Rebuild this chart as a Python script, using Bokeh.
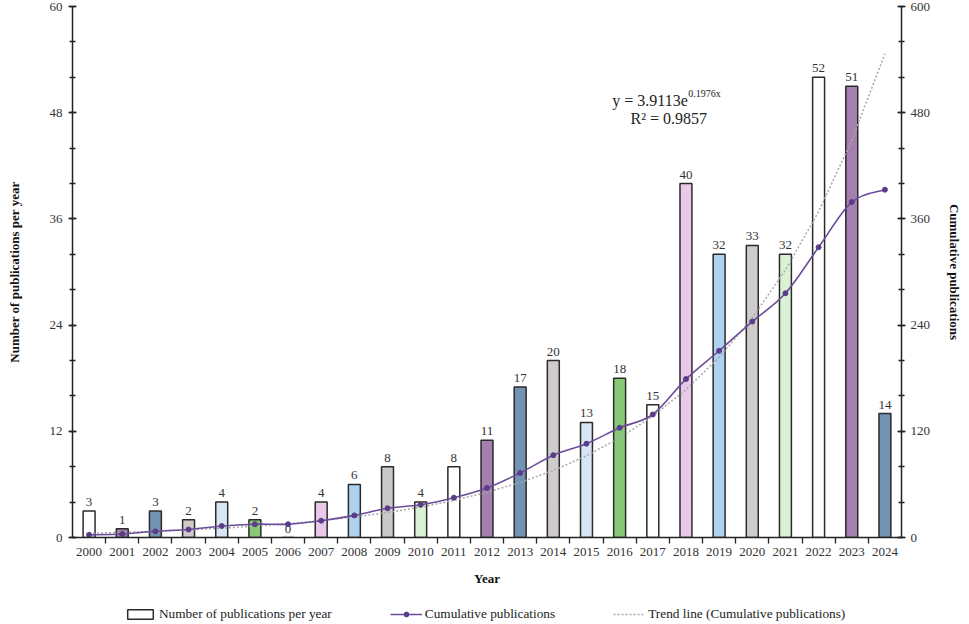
from bokeh.plotting import figure
from bokeh.layouts import column
from bokeh.models import (Range1d, LinearAxis, SingleIntervalTicker, FixedTicker,
                          ColumnDataSource, Legend, LegendItem)
from bokeh.core.properties import value
from bokeh.embed import file_html
from bokeh.resources import INLINE
import numpy as np

# ---- data ----
years = list(range(2000, 2025))
per_year = [3, 1, 3, 2, 4, 2, 0, 4, 6, 8, 4, 8, 11, 17, 20, 13, 18, 15, 40, 32, 33, 32, 52, 51, 14]
bar_colors = ["#ffffff", "#a57fae", "#7393b3", "#cfcbcb", "#d7e5f5", "#88c978", "#ffffff",
              "#e9c9e9", "#aed3f1", "#c9c9c9", "#daf1d4",
              "#ffffff", "#a57fae", "#7393b3", "#cfcbcb", "#d7e5f5", "#88c978", "#ffffff",
              "#e9c9e9", "#aed3f1", "#cfcbcb", "#daf1d4",
              "#ffffff", "#a57fae", "#7393b3"]
cumulative = list(np.cumsum(per_year))
trend_a = 3.9113
trend_b = 0.1976
left_ticks_interval = 12
right_ticks_interval = 120
legend_labels = ["Number of publications per year", "Cumulative publications",
                 "Trend line (Cumulative publications)"]

FONT = "Liberation Serif"
W = 966
BAR_LINE = "#2a2a2a"
CUM_COLOR = "#6b4c9a"
DOT_COLOR = "#5b3c8a"
TREND_COLOR = "#a8a8a8"

trend = [trend_a * np.exp(trend_b * (i + 1)) for i in range(len(years))]

src = ColumnDataSource(dict(x=years, top=per_year, fillc=bar_colors,
                            label=[str(v) for v in per_year], cum=cumulative, trend=trend))

# smoothed (Excel-style) curve through the cumulative points: cubic Bezier segments
xs = np.array(years, dtype=float)
ys = np.array(cumulative, dtype=float)
xp = np.concatenate([[xs[0]], xs, [xs[-1]]])
yp = np.concatenate([[ys[0]], ys, [ys[-1]]])
seg = dict(x0=[], y0=[], x1=[], y1=[], cx0=[], cy0=[], cx1=[], cy1=[])
for i in range(len(xs) - 1):
    j = i + 1
    seg["x0"].append(xp[j]); seg["y0"].append(yp[j])
    seg["x1"].append(xp[j + 1]); seg["y1"].append(yp[j + 1])
    seg["cx0"].append(xp[j] + (xp[j + 1] - xp[j - 1]) / 6)
    seg["cy0"].append(yp[j] + (yp[j + 1] - yp[j - 1]) / 6)
    seg["cx1"].append(xp[j + 1] - (xp[j + 2] - xp[j]) / 6)
    seg["cy1"].append(yp[j + 1] - (yp[j + 2] - yp[j]) / 6)
seg_src = ColumnDataSource(seg)

p = figure(width=W, height=597, output_backend="svg", toolbar_location=None,
           x_range=Range1d(1999.5, 2024.5), y_range=Range1d(0, 60),
           min_border_left=72, min_border_right=W - 901, min_border_top=6, min_border_bottom=60)
p.extra_y_ranges = {"cum": Range1d(0, 600)}
p.outline_line_color = None
p.grid.visible = False

# bars
p.vbar(x="x", top="top", width=0.36, bottom=0, fill_color="fillc",
       line_color=BAR_LINE, line_width=1.5, source=src)
p.text(x="x", y="top", text="label", source=src, text_align="center", text_baseline="bottom",
       y_offset=-5, text_font=value(FONT), text_font_size="13px", text_color="#333333")

# trend line
p.line(x="x", y="trend", source=src, y_range_name="cum", line_color=TREND_COLOR,
       line_width=1.5, line_dash="2 2")
# cumulative (smoothed line + markers)
p.bezier(x0="x0", y0="y0", x1="x1", y1="y1", cx0="cx0", cy0="cy0", cx1="cx1", cy1="cy1",
         source=seg_src, y_range_name="cum", line_color=CUM_COLOR, line_width=1.6)
p.scatter(x="x", y="cum", source=src, y_range_name="cum", size=5,
          fill_color=DOT_COLOR, line_color=DOT_COLOR)

# equation
p.text(x=[2015.78], y=[49.35], text=["y = 3.9113e"], text_align="left",
       text_baseline="alphabetic", text_font=value(FONT), text_font_size="16px",
       text_color="#222222")
p.text(x=[2015.78], y=[49.35], text=["0.1976x"], text_align="left",
       text_baseline="alphabetic", x_offset=76, y_offset=-7, text_font=value(FONT),
       text_font_size="10px", text_color="#222222")
p.text(x=[2016.33], y=[47.29], text=["R\u00b2 = 0.9857"], text_align="left",
       text_baseline="alphabetic", text_font=value(FONT), text_font_size="16px",
       text_color="#222222")

# axes styling
def style_axis(ax):
    ax.axis_line_color = "#222222"
    ax.axis_line_width = 1.5
    ax.major_tick_line_color = "#222222"
    ax.minor_tick_line_color = "#222222"
    ax.major_tick_line_width = 1.3
    ax.minor_tick_line_width = 1.3
    ax.major_label_text_font = FONT
    ax.major_label_text_font_size = "13px"
    ax.major_label_text_color = "#333333"
    ax.axis_label_text_font = FONT
    ax.axis_label_text_font_size = "13px"
    ax.axis_label_text_font_style = "bold"
    ax.axis_label_text_color = "#111111"

yl = p.yaxis[0]
yl.ticker = SingleIntervalTicker(interval=left_ticks_interval, num_minor_ticks=3)
yl.axis_label = "Number of publications per year"
style_axis(yl)
yl.major_tick_in = 4
yl.major_tick_out = 4
yl.minor_tick_in = 3
yl.minor_tick_out = 3
yl.major_label_standoff = 6
yl.axis_label_standoff = 25

yr = LinearAxis(y_range_name="cum",
                ticker=SingleIntervalTicker(interval=right_ticks_interval, num_minor_ticks=3),
                axis_label="Cumulative publications")
style_axis(yr)
yr.major_tick_in = 4
yr.major_tick_out = 4
yr.minor_tick_in = 3
yr.minor_tick_out = 3
yr.major_label_standoff = 5
yr.axis_label_standoff = 14
p.add_layout(yr, "right")

xa = p.xaxis[0]
xa.ticker = FixedTicker(ticks=years, minor_ticks=[y + 0.5 for y in years[:-1]])
xa.major_label_overrides = {y: str(y) for y in years}
xa.axis_label = "Year"
style_axis(xa)
xa.major_tick_in = 0
xa.major_tick_out = 0
xa.minor_tick_in = 0
xa.minor_tick_out = 6
xa.major_label_standoff = 4
xa.axis_label_standoff = 12

# ---- legend strip (separate small figure, frame aligned with main plot) ----
lg = figure(width=W, height=25, output_backend="svg", toolbar_location=None,
            x_range=Range1d(0, 1), y_range=Range1d(0, 1),
            x_axis_location=None, y_axis_location=None, min_border=0)
lg.outline_line_color = None
lg.grid.visible = False
nan = float("nan")
r_bar = lg.vbar(x=[nan], top=[nan], width=0.1, fill_color="#ffffff",
                line_color=BAR_LINE, line_width=1.5)
r_cl = lg.line(x=[nan], y=[nan], line_color=CUM_COLOR, line_width=1.6)
r_cc = lg.scatter(x=[nan], y=[nan], size=5, fill_color=DOT_COLOR, line_color=DOT_COLOR)
r_tl = lg.line(x=[nan], y=[nan], line_color=TREND_COLOR, line_width=1.5, line_dash="2 2")

legend = Legend(items=[
    LegendItem(label=legend_labels[0], renderers=[r_bar]),
    LegendItem(label=legend_labels[1], renderers=[r_cl, r_cc]),
    LegendItem(label=legend_labels[2], renderers=[r_tl]),
], orientation="horizontal", location=(52, 0))
legend.label_text_font = FONT
legend.label_text_font_size = "13.3px"
legend.label_text_color = "#222222"
legend.glyph_width = 32
legend.glyph_height = 12
legend.spacing = 58
legend.label_standoff = 3
legend.padding = 2
legend.margin = 0
legend.border_line_color = None
legend.background_fill_alpha = 0
lg.add_layout(legend, "center")

layout = column(p, lg, spacing=0)
open("out.html", "w").write(file_html(layout, INLINE))
